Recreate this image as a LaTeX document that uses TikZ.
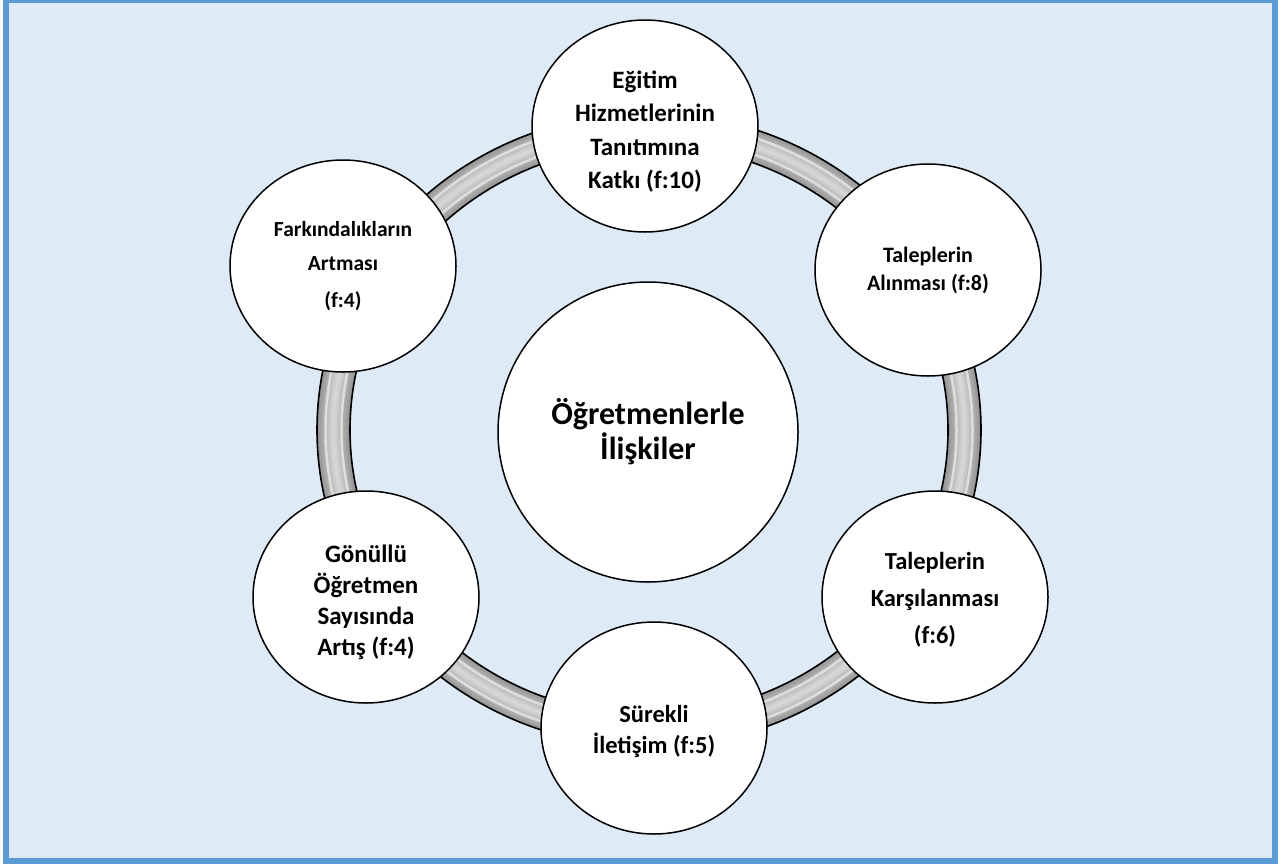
\documentclass[tikz,border=0pt]{standalone}
\usepackage{fontspec}
\setmainfont{Carlito}
\usetikzlibrary{shapes.geometric}
\definecolor{framebl}{HTML}{5B9BD5}
\definecolor{bgbl}{HTML}{DEEBF7}
\begin{document}
\begin{tikzpicture}[x=1pt,y=-1pt,
  bubble/.style={ellipse, draw=black, line width=1.5pt, fill=white,
    minimum width=226pt, minimum height=212pt, inner sep=0pt, align=center,
    font=\bfseries\fontsize{25}{29.5}\selectfont},
  hub/.style={circle, draw=black, line width=1.5pt, fill=white,
    minimum size=300pt, inner sep=0pt, align=center,
    font=\bfseries\fontsize{32}{35}\selectfont},
  ringline/.style={line width=1.6pt, draw=black}]
\useasboundingbox (0,0) rectangle (1281,865);
\fill[white] (0,0) rectangle (1281,865);
\draw[framebl, line width=6pt, fill=bgbl] (6,0) rectangle (1274.5,860.5);
% ring (tube shading)
\coordinate (o) at (649,430);
\foreach \i in {0,...,10}{
  \pgfmathsetmacro{\w}{33-3*\i}
  \pgfmathsetmacro{\g}{42-2.6*\i}
  \draw[black!\g, line width=\w pt] (o) ellipse [x radius=315.5, y radius=301];
}
\draw[white, opacity=0.55, line width=2.5pt] (o) ellipse [x radius=307.5, y radius=293];
\draw[white, opacity=0.55, line width=2.5pt] (o) ellipse [x radius=323.5, y radius=309];
\draw[ringline] (o) ellipse [x radius=332, y radius=317];
\draw[ringline] (o) ellipse [x radius=299, y radius=285];
% nodes
\node[hub] (c) at (648,432) {Öğretmenlerle\\İlişkiler};
\node[bubble, font=\bfseries\fontsize{25}{33.5}\selectfont] (n1) at (645,126)
  {\rule{0pt}{29pt}Eğitim\\Hizmetlerinin\\Tanıtımına\\Katkı (f:10)};
\node[bubble, font=\bfseries\fontsize{21.5}{34}\selectfont] (n2) at (343,266)
  {Farkındalıkların\\Artması\\[3pt](f:4)};
\node[bubble, font=\bfseries\fontsize{22}{28}\selectfont] (n3) at (928,270)
  {Taleplerin\\Alınması (f:8)};
\node[bubble, font=\bfseries\fontsize{24.5}{37}\selectfont] (n4) at (935,597)
  {\rule{0pt}{23pt}Taleplerin\\Karşılanması\\(f:6)};
\node[bubble, font=\bfseries\fontsize{24.5}{31}\selectfont] (n5) at (654,728)
  {\rule{0pt}{24pt}Sürekli\\İletişim (f:5)};
\node[bubble, font=\bfseries\fontsize{25}{31}\selectfont] (n6) at (366,597)
  {\rule{0pt}{28pt}Gönüllü\\Öğretmen\\Sayısında\\Artış (f:4)};
\end{tikzpicture}
\end{document}
